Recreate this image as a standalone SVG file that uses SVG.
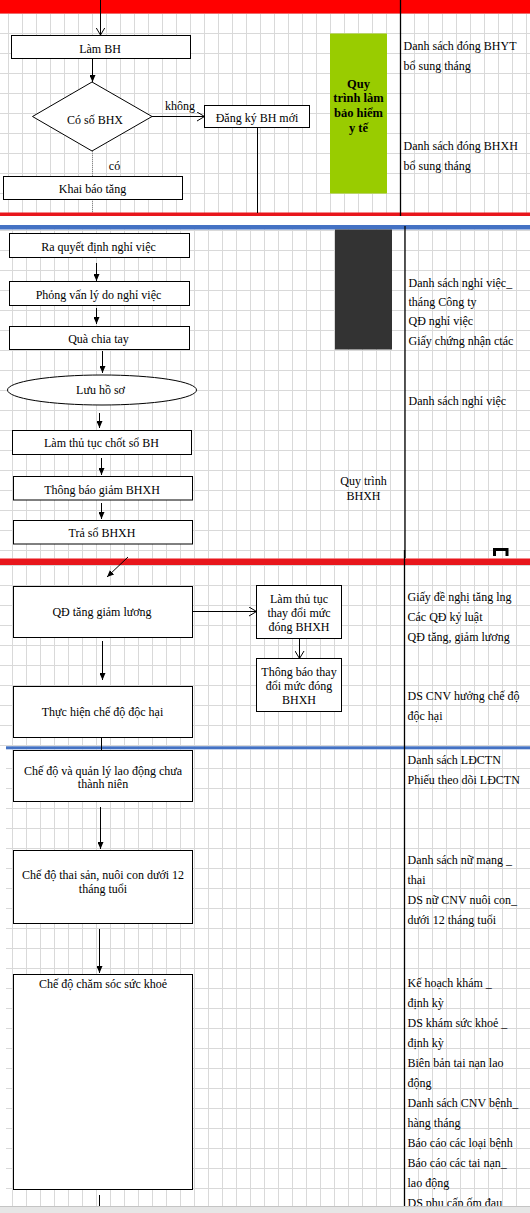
<svg xmlns="http://www.w3.org/2000/svg" width="530" height="1213" viewBox="0 0 530 1213">
<style>
.box{fill:#fff;stroke:#000;stroke-width:1}
.t{font-family:"Liberation Serif","Times New Roman",serif;font-size:12px;text-anchor:middle;fill:#000}
.r{font-family:"Liberation Serif","Times New Roman",serif;font-size:12px;fill:#000}
.b{font-weight:bold;font-size:12.5px}
.c{stroke:#000;stroke-width:1;fill:none}
.v{stroke:#000;stroke-width:1.3}
</style>
<defs>
<pattern id="g1" patternUnits="userSpaceOnUse" x="8" y="13" width="14" height="20"><path d="M0.5 0V20M0 0.5H14" stroke="#d9d9d9" stroke-width="1" fill="none"/></pattern>
<pattern id="g2" patternUnits="userSpaceOnUse" x="12" y="10" width="14" height="20"><path d="M0.5 0V20M0 0.5H14" stroke="#d9d9d9" stroke-width="1" fill="none"/></pattern>
<pattern id="g3" patternUnits="userSpaceOnUse" x="12" y="5" width="14" height="20"><path d="M0.5 0V20M0 0.5H14" stroke="#d9d9d9" stroke-width="1" fill="none"/></pattern>
<pattern id="g4" patternUnits="userSpaceOnUse" x="12" y="8" width="14" height="20"><path d="M0.5 0V20M0 0.5H14" stroke="#d9d9d9" stroke-width="1" fill="none"/></pattern>
<marker id="af" markerUnits="userSpaceOnUse" viewBox="0 0 7 6" refX="7" refY="3" markerWidth="7" markerHeight="6" orient="auto"><path d="M0 0L7 3L0 6z" fill="#000"/></marker>
<marker id="ao" markerUnits="userSpaceOnUse" viewBox="0 0 8 10" refX="7.5" refY="5" markerWidth="8" markerHeight="10" orient="auto"><path d="M0 0.5L7.5 5L0 9.5" fill="none" stroke="#000" stroke-width="1"/></marker>
</defs>
<rect width="530" height="1213" fill="#fff"/>
<g id="background">
<rect x="0" y="13" width="530" height="200" fill="url(#g1)"/>
<rect x="0" y="229.5" width="530" height="329" fill="url(#g2)"/>
<rect x="0" y="565" width="530" height="181.5" fill="url(#g3)"/>
<rect x="6" y="749.5" width="524" height="457" fill="url(#g4)"/>
<rect x="0" y="0" width="530" height="13.5" fill="#ff0000"/>
<rect x="0" y="212.5" width="530" height="3.5" fill="#e8161c"/>
<rect x="0" y="225" width="530" height="4.5" fill="#4472c4"/>
<rect x="0" y="558.5" width="530" height="6.5" fill="#e8161c"/>
<rect x="6" y="746.3" width="524" height="3" fill="#4472c4"/>
<line class="v" x1="400.5" y1="0" x2="400.5" y2="216"/>
<line class="v" x1="405" y1="226" x2="405" y2="558"/>
<line class="v" x1="404.5" y1="550" x2="404.5" y2="1206"/>
<path d="M494.5 556V549.5H507V556" fill="none" stroke="#000" stroke-width="3"/>
</g>
<g id="connectors">
<line class="c" x1="100.5" y1="0" x2="100.5" y2="35" marker-end="url(#ao)"/>
<line class="c" x1="92.5" y1="58.5" x2="92.5" y2="82" marker-end="url(#af)"/>
<line class="c" x1="152" y1="116.5" x2="204.5" y2="116.5" marker-end="url(#ao)"/>
<line x1="92.5" y1="151" x2="92.5" y2="213" stroke="#8a8a8a" stroke-width="1" stroke-dasharray="1,1"/>
<line class="c" x1="257.5" y1="127.5" x2="257.5" y2="213"/>
<line class="c" x1="96.5" y1="263" x2="96.5" y2="281" marker-end="url(#af)"/>
<line class="c" x1="96.5" y1="308" x2="96.5" y2="324" marker-end="url(#af)"/>
<line class="c" x1="102.5" y1="351" x2="102.5" y2="373" marker-end="url(#af)"/>
<line class="c" x1="99.5" y1="413" x2="99.5" y2="428" marker-end="url(#af)"/>
<line class="c" x1="101.5" y1="458" x2="101.5" y2="475" marker-end="url(#af)"/>
<line class="c" x1="101.5" y1="503" x2="101.5" y2="519" marker-end="url(#af)"/>
<line class="c" x1="128" y1="557" x2="107" y2="577" marker-end="url(#af)"/>
<line class="c" x1="192.5" y1="611.5" x2="256.5" y2="611.5" marker-end="url(#ao)"/>
<line class="c" x1="299.5" y1="638.5" x2="299.5" y2="658.5" marker-end="url(#ao)"/>
<line class="c" x1="102.5" y1="641" x2="102.5" y2="680" marker-end="url(#af)"/>
<line class="c" x1="101.5" y1="737.5" x2="101.5" y2="750.5"/>
<line class="c" x1="100.5" y1="807" x2="100.5" y2="849" marker-end="url(#af)"/>
<line class="c" x1="99.5" y1="929" x2="99.5" y2="973" marker-end="url(#af)"/>
<line class="c" x1="99.5" y1="1195" x2="99.5" y2="1206"/>
<text class="t" x="180" y="110">không</text>
<text class="t" x="114.5" y="170">có</text>
</g>
<g id="n-lambh"><rect class="box" x="11.5" y="35.5" width="179" height="23"/><text class="t" x="100" y="52.5">Làm BH</text></g>
<g id="n-coso"><polygon class="box" points="92,82 152,116.5 92,151 32.5,116.5"/><text class="t" x="95" y="123.5">Có số BHX</text></g>
<g id="n-dangky"><rect class="box" x="204.5" y="105.5" width="105" height="22"/><text class="t" x="257" y="121.5">Đăng ký BH mới</text></g>
<g id="n-khaibao"><rect class="box" x="3.5" y="176.5" width="179" height="23"/><text class="t" x="92.5" y="193">Khai báo tăng</text></g>
<g id="n-bhyt"><rect x="330" y="33.5" width="57" height="160" fill="#99cc00"/>
<text class="t b" x="358.5" y="87.5">Quy</text><text class="t b" x="358.5" y="102">trình làm</text><text class="t b" x="358.5" y="117">bảo hiểm</text><text class="t b" x="358.5" y="131.5">y tế</text></g>
<g id="n-list1">
<text class="r" x="403.5" y="50">Danh sách đóng BHYT</text>
<text class="r" x="403.5" y="70">bổ sung tháng</text>
<text class="r" x="403.5" y="150">Danh sách đóng BHXH</text>
<text class="r" x="403.5" y="170">bổ sung tháng</text>
</g>
<g id="n-raqd"><rect class="box" x="9.5" y="233.5" width="180" height="24"/><text class="t" x="98.5" y="250.5">Ra quyết định nghỉ việc</text></g>
<g id="n-phongvan"><rect class="box" x="9.5" y="281.5" width="180" height="24"/><text class="t" x="98.5" y="299">Phỏng vấn lý do nghỉ việc</text></g>
<g id="n-qua"><rect class="box" x="9.5" y="326.5" width="180" height="23"/><text class="t" x="98.5" y="343">Quà chia tay</text></g>
<g id="n-luu"><ellipse class="box" cx="102" cy="390" rx="94.5" ry="15"/><text class="t" x="100.5" y="393.5">Lưu hồ sơ</text></g>
<g id="n-chotso"><rect class="box" x="12.5" y="430.5" width="179" height="24"/><text class="t" x="101.5" y="446.5">Làm thủ tục chốt sổ BH</text></g>
<g id="n-giam"><rect class="box" x="13.5" y="476.5" width="179" height="23.5"/><text class="t" x="102" y="493.5">Thông báo giảm  BHXH</text></g>
<g id="n-traso"><rect class="box" x="13.5" y="520.5" width="179" height="23.5"/><text class="t" x="102" y="536.5">Trả sổ BHXH</text></g>
<g id="n-dark"><rect x="335" y="229.5" width="57" height="120" fill="#333333"/></g>
<g id="n-bhxh"><text class="t" x="363.5" y="485">Quy trình</text><text class="t" x="363.5" y="500">BHXH</text></g>
<g id="n-list2">
<text class="r" x="408.5" y="286.5">Danh sách nghỉ việc_</text>
<text class="r" x="408.5" y="306">tháng Công ty</text>
<text class="r" x="408.5" y="325">QĐ nghỉ việc</text>
<text class="r" x="408.5" y="345">Giấy chứng nhận ctác</text>
<text class="r" x="408.5" y="405">Danh sách nghỉ việc</text>
</g>
<g id="n-qdtang"><rect class="box" x="13.5" y="586.5" width="179" height="51"/><text class="t" x="102" y="616">QĐ tăng giảm  lương</text></g>
<g id="n-lamthutuc"><rect class="box" x="256.5" y="585.5" width="85" height="53"/><text class="t" x="299" y="602.5">Làm thủ tục</text><text class="t" x="299" y="616.5">thay đổi mức</text><text class="t" x="299" y="630.5">đóng BHXH</text></g>
<g id="n-thongbaothay"><rect class="box" x="256.5" y="658.5" width="85" height="53"/><text class="t" x="299" y="676">Thông báo thay</text><text class="t" x="299" y="690">đổi mức đóng</text><text class="t" x="299" y="703.5">BHXH</text></g>
<g id="n-thuchien"><rect class="box" x="13.5" y="686.5" width="179" height="51"/><text class="t" x="102.5" y="715.5">Thực hiện chế độ độc hại</text></g>
<g id="n-list3">
<text class="r" x="407.5" y="600.5">Giấy đề nghị tăng lng</text>
<text class="r" x="407.5" y="620.5">Các QĐ kỷ luật</text>
<text class="r" x="407.5" y="640.5">QĐ tăng, giảm lương</text>
<text class="r" x="407.5" y="700">DS CNV hưởng chế độ</text>
<text class="r" x="407.5" y="720">độc hại</text>
</g>
<g id="n-ldctn"><rect class="box" x="13.5" y="750.5" width="179" height="51"/><text class="t" x="103" y="774.5">Chế độ và quản lý lao động chưa</text><text class="t" x="103" y="788">thành niên</text></g>
<g id="n-thaisan"><rect class="box" x="13.5" y="850.5" width="179" height="73"/><text class="t" x="103" y="879">Chế độ thai sản, nuôi con dưới 12</text><text class="t" x="103" y="892.5">tháng tuổi</text></g>
<g id="n-chamsoc"><rect class="box" x="13.5" y="974.5" width="179" height="215"/><text class="t" x="103" y="987.5">Chế độ chăm  sóc sức khoẻ</text></g>
<g id="n-list4">
<text class="r" x="407.5" y="764">Danh sách LĐCTN</text>
<text class="r" x="407.5" y="784">Phiếu theo dõi LĐCTN</text>
<text class="r" x="407.5" y="864">Danh sách nữ mang _</text>
<text class="r" x="407.5" y="884">thai</text>
<text class="r" x="407.5" y="904">DS nữ CNV nuôi con_</text>
<text class="r" x="407.5" y="924">dưới 12 tháng tuổi</text>
<text class="r" x="407.5" y="986.5">Kế hoạch khám _</text>
<text class="r" x="407.5" y="1006.5">định kỳ</text>
<text class="r" x="407.5" y="1026.5">DS khám sức khoẻ _</text>
<text class="r" x="407.5" y="1046.5">định kỳ</text>
<text class="r" x="407.5" y="1066.5">Biên bản tai nạn lao</text>
<text class="r" x="407.5" y="1086.5">động</text>
<text class="r" x="407.5" y="1106.5">Danh sách CNV bệnh_</text>
<text class="r" x="407.5" y="1126.5">hàng tháng</text>
<text class="r" x="407.5" y="1146.5">Báo cáo các loại bệnh</text>
<text class="r" x="407.5" y="1166.5">Báo cáo các tai nạn_</text>
<text class="r" x="407.5" y="1186.5">lao động</text>
<text class="r" x="407.5" y="1206.5">DS phụ cấp ốm đau</text>
</g>
<g id="footer"><rect x="0" y="1206" width="530" height="7" fill="#e6e6e6"/><line x1="0" y1="1206.5" x2="530" y2="1206.5" stroke="#c4c4c4"/></g>
</svg>
